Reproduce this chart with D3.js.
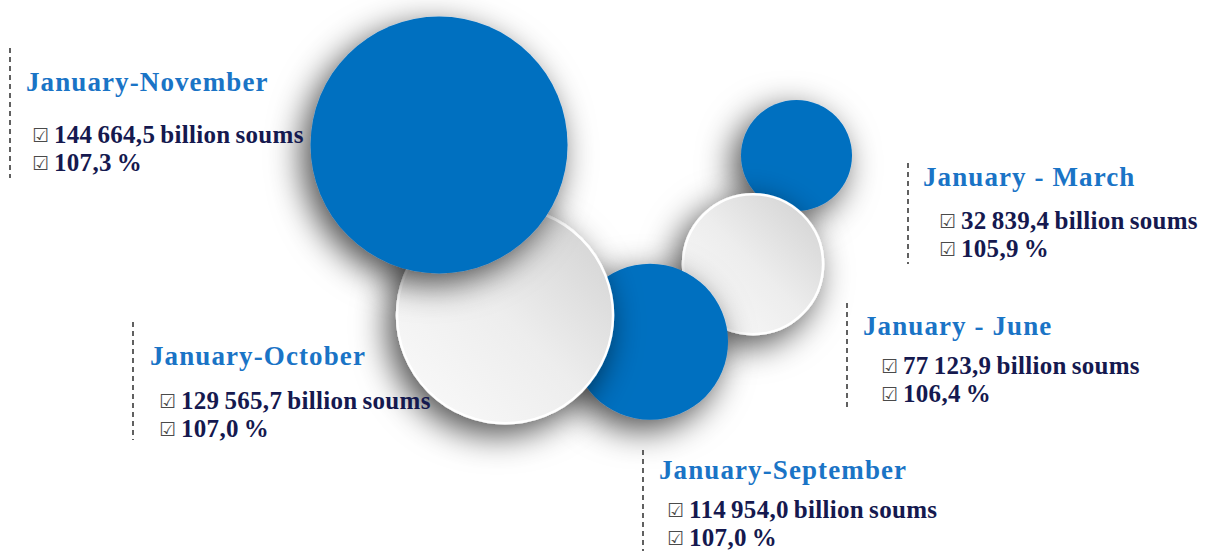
<!DOCTYPE html>
<html>
<head>
<meta charset="utf-8">
<script src="https://cdn.jsdelivr.net/npm/d3@7"></script>
<style>
body{margin:0;background:#fff}
</style>
</head>
<body>
<svg id="svg" width="1211" height="551"></svg>
<script>
// values
var periods = ["January - March", "January - June", "January-September", "January-October", "January-November"];
var values = [32839.4, 77123.9, 114954.0, 129565.7, 144664.5];   // billion soums
var growth = [105.9, 106.4, 107.0, 107.0, 107.3];                // %

function draw(){
	var svg = d3.select("#svg");
	var defs = svg.append("defs");

	// soft shadow under every bubble
	var f = defs.append("filter").attr("id", "shadow")
		.attr("x", "-50%").attr("y", "-50%").attr("width", "200%").attr("height", "200%");
	f.append("feDropShadow")
		.attr("dx", -8).attr("dy", 10)
		.attr("stdDeviation", 17)
		.attr("flood-color", "#000")
		.attr("flood-opacity", 0.7);

	var g = defs.append("linearGradient").attr("id", "whiteGrad")
		.attr("x1", 0).attr("y1", 1).attr("x2", 1).attr("y2", 0);
	g.append("stop").attr("offset", "0%").attr("stop-color", "#fbfbfb");
	g.append("stop").attr("offset", "50%").attr("stop-color", "#ededed");
	g.append("stop").attr("offset", "100%").attr("stop-color", "#cfcfcf");

	// bubble size: not proportional in the original design, so a polylinear scale
	var scaleR = d3.scaleLinear()
		.domain(values)
		.range([55.5, 70, 78, 108, 128.5]);

	// bubbles are chained: each one sits next to the previous one
	var start = [796.5, 155.5];
	var steps = [null, {a: 111.8, o: 8.5}, {a: 143, o: 19}, {a: 190.4, o: 38.6}, {a: 248.8, o: 54}];

	var bubbles = [];
	periods.forEach(function(p, i){
		var r = scaleR(values[i]);
		var x = start[0], y = start[1];
		if (i > 0){
			var prev = bubbles[i-1];
			var d = prev.r + r - steps[i].o;
			var a = steps[i].a * Math.PI / 180;
			x = prev.x + d * Math.cos(a);
			y = prev.y + d * Math.sin(a);
		}
		bubbles.push({period: p, value: values[i], growth: growth[i], r: r, x: x, y: y, i: i});
	});

	var gBubbles = svg.append("g");
	gBubbles.selectAll("circle")
		.data(bubbles)
		.enter()
		.append("circle")
		.attr("cx", function(d){ return d.x; })
		.attr("cy", function(d){ return d.y; })
		.attr("r", function(d){ return d.r; })
		.attr("fill", function(d){ return d.i % 2 ? "url(#whiteGrad)" : "#0070c0"; })
		.attr("stroke", function(d){ return d.i % 2 ? "#ffffff" : "none"; })
		.attr("stroke-width", 2.5)
		.attr("filter", "url(#shadow)");

	// number format: 144 664,5
	var loc = d3.formatLocale({decimal: ",", thousands: " ", grouping: [3], currency: ["", ""]});
	var fmtVal = loc.format(",.1f");

	// label boxes (line x, top, bottom, title x/baseline, value x, baselines)
	var labels = [
		{lx: 908, y0: 163, y1: 264, tx: 923, ty: 186, vx: 940, v1: 229, v2: 257},
		{lx: 847, y0: 303, y1: 408, tx: 863, ty: 335, vx: 882, v1: 374, v2: 402},
		{lx: 643, y0: 450, y1: 551, tx: 659, ty: 479, vx: 668, v1: 518, v2: 546},
		{lx: 133, y0: 322, y1: 440, tx: 150, ty: 365, vx: 160, v1: 409, v2: 437},
		{lx: 10,  y0: 48,  y1: 178, tx: 26,  ty: 91,  vx: 33,  v1: 143, v2: 171}
	];

	var gLab = svg.append("g");
	bubbles.forEach(function(d, i){
		var L = labels[i];
		var lab = gLab.append("g");
		lab.append("line")
			.attr("x1", L.lx).attr("x2", L.lx)
			.attr("y1", L.y0).attr("y2", L.y1)
			.attr("stroke", "#3a3a3a")
			.attr("stroke-width", 1.6)
			.attr("stroke-dasharray", "5,4");
		lab.append("text")
			.attr("x", L.tx).attr("y", L.ty)
			.attr("font-family", "Liberation Serif, Times New Roman, serif")
			.attr("font-weight", "bold")
			.attr("font-size", 27)
			.attr("letter-spacing", 1.1)
			.attr("fill", "#1a74c6")
			.text(d.period);

		var lines = [fmtVal(d.value) + " billion soums", loc.format(".1f")(d.growth) + " %"];
		[L.v1, L.v2].forEach(function(by, k){
			lab.append("text")
				.attr("x", L.vx - 1).attr("y", by - 1)
				.attr("font-family", "DejaVu Sans, sans-serif")
				.attr("font-size", 19)
				.attr("font-weight", "bold")
				.attr("fill", "#4a4a4a")
				.text("\u2611");
			lab.append("text")
				.attr("x", L.vx + 21).attr("y", by)
				.attr("font-family", "Liberation Serif, Times New Roman, serif")
				.attr("font-weight", "bold")
				.attr("font-size", 25)
				.attr("letter-spacing", 0.3)
				.attr("word-spacing", -1.5)
				.attr("fill", "#15194f")
				.text(lines[k]);
		});
	});
}
draw();
</script>
</body>
</html>
